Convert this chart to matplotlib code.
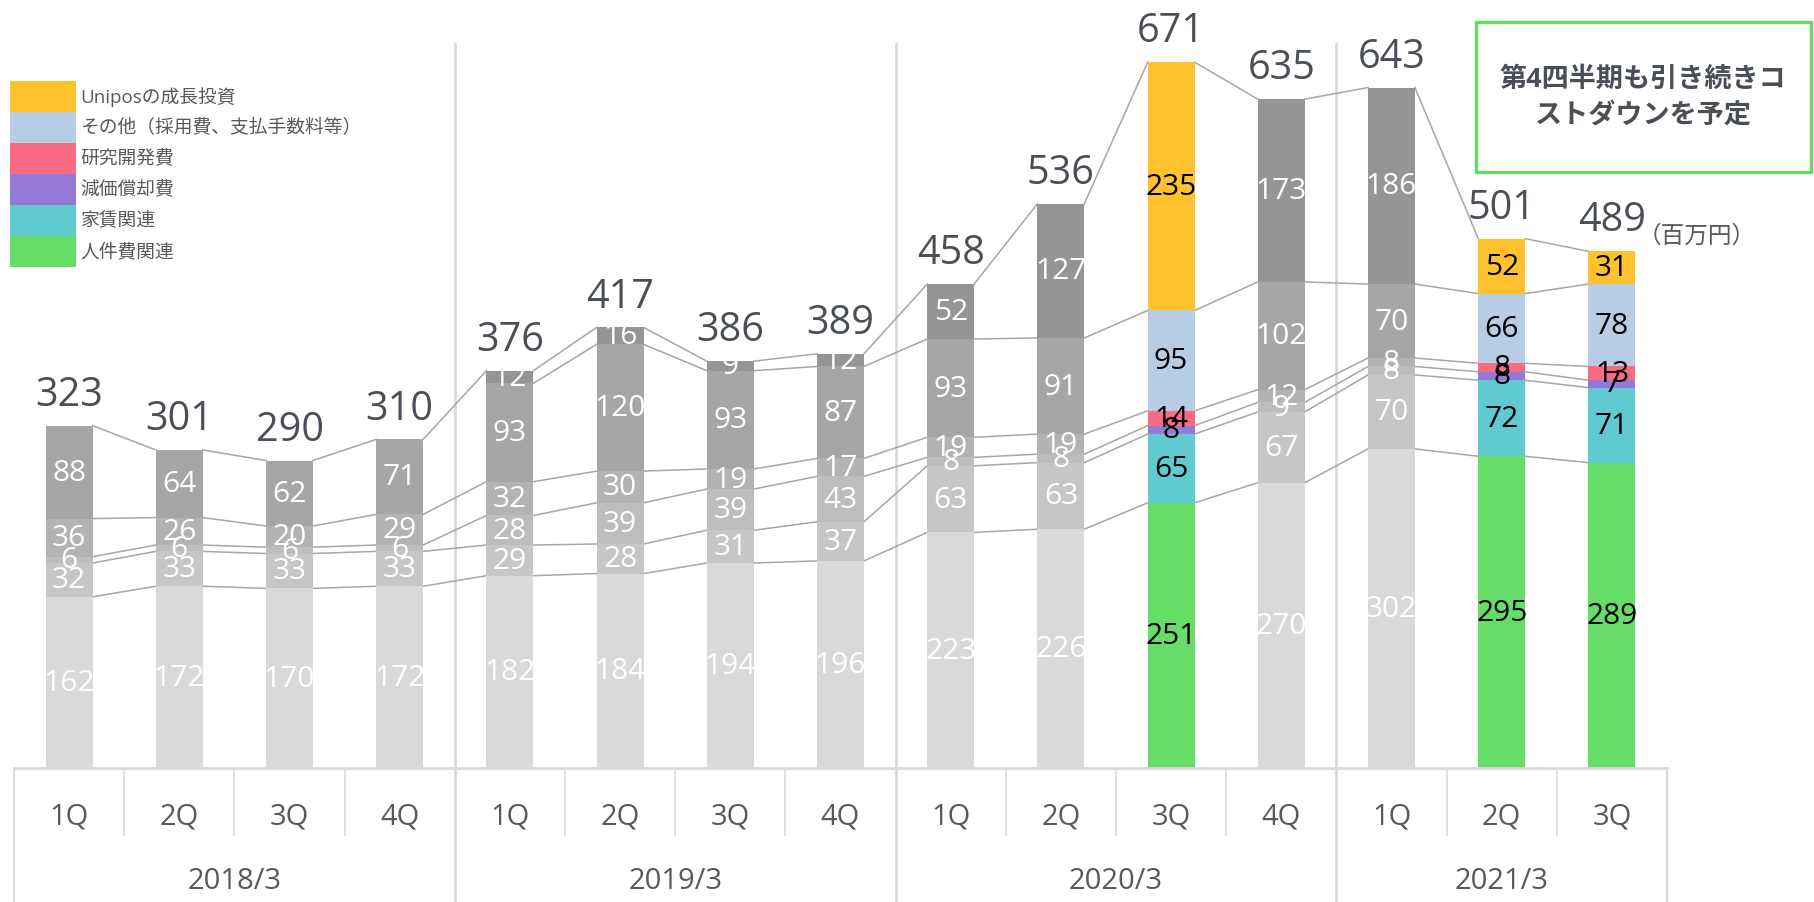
import matplotlib
matplotlib.use("Agg")
import matplotlib.pyplot as plt
from matplotlib.patches import Rectangle
import numpy as np

# ---------------- data ----------------
quarters = ['1Q', '2Q', '3Q', '4Q', '1Q', '2Q', '3Q', '4Q', '1Q', '2Q', '3Q', '4Q', '1Q', '2Q', '3Q']
years = ['2018/3', '2019/3', '2020/3', '2021/3']
year_sizes = [4, 4, 4, 3]
totals = [323, 301, 290, 310, 376, 417, 386, 389, 458, 536, 671, 635, 643, 501, 489]
personnel = [162, 172, 170, 172, 182, 184, 194, 196, 223, 226, 251, 270, 302, 295, 289]
rent = [32, 33, 33, 33, 29, 28, 31, 37, 63, 63, 65, 67, 70, 72, 71]
depreciation = [6, 6, 6, 6, 28, 39, 39, 43, 8, 8, 8, 9, 8, 8, 7]
rnd = [36, 26, 20, 29, 32, 30, 19, 17, 19, 19, 14, 12, 8, 8, 13]
other = [88, 64, 62, 71, 93, 120, 93, 87, 93, 91, 95, 102, 70, 66, 78]
unipos = [0, 0, 0, 0, 12, 16, 9, 12, 52, 127, 235, 173, 186, 52, 31]
series_names = ['人件費関連', '家賃関連', '減価償却費', '研究開発費',
                'その他（採用費、支払手数料等）', 'Uniposの成長投資']
highlight = [10, 13, 14]

# ---------------- style ----------------
FONT = ['Open Sans', 'Noto Sans CJK JP', 'DejaVu Sans']
plt.rcParams['font.family'] = FONT
colors = ['#66dd66', '#5fcbd0', '#9579d9', '#f86b82', '#b7cce5', '#ffc12c']
greys = ['#d9d9d9', '#c6c6c6', '#bdbdbd', '#b3b3b3', '#a6a6a6', '#959595']
LINE = '#a6a6a6'
AXC = '#d9d9d9'
TXT = '#4a4f57'

W, H = 1815, 903
fig = plt.figure(figsize=(W / 100, H / 100), dpi=100)

base_px = 769
px_per_unit = 709 / 671.0
left_px, right_px = 14, 1667
ax = fig.add_axes([left_px / W, (H - base_px) / H, (right_px - left_px) / W, base_px / H])
ymax = base_px / px_per_unit
ax.set_xlim(-0.5, 14.5)
ax.set_ylim(0, ymax)
ax.axis('off')

def py(p):
    """pixel offset below baseline -> data units"""
    return (base_px - p) / px_per_unit

data = np.array([personnel, rent, depreciation, rnd, other, unipos], dtype=float)
n = data.shape[1]
x = np.arange(n)
bw = 0.425
cum = np.cumsum(data, axis=0)
bottoms = cum - data

for s in range(data.shape[0]):
    cols = [colors[s] if i in highlight else greys[s] for i in range(n)]
    ax.bar(x, data[s], bottom=bottoms[s], width=bw, color=cols, linewidth=0, zorder=3)
    for i in range(n):
        v = data[s, i]
        if v <= 0:
            continue
        tc = 'black' if i in highlight else 'white'
        ax.text(x[i], bottoms[s, i] + v / 2, f"{int(v)}", ha='center', va='center',
                fontsize=21.5, color=tc, zorder=5)

# connecting lines
def top_index(i):
    idx = [s for s in range(data.shape[0]) if data[s, i] > 0]
    return idx[-1]

for i in range(n - 1):
    x0, x1 = x[i] + bw / 2, x[i + 1] - bw / 2
    for s in range(data.shape[0]):
        if data[s, i] > 0 and data[s, i + 1] > 0 and s < top_index(i) and s < top_index(i + 1):
            ax.plot([x0, x1], [cum[s, i], cum[s, i + 1]], color=LINE, lw=1.1, zorder=2)
    ax.plot([x0, x1], [cum[top_index(i), i], cum[top_index(i + 1), i + 1]],
            color=LINE, lw=1.1, zorder=2)

# totals
for i in range(n):
    ax.annotate(f"{totals[i]}", (x[i], cum[top_index(i), i]), xytext=(0, 15), textcoords='offset points',
                ha='center', va='baseline', fontsize=28.5, color=TXT, zorder=6)

# ---------------- category axis ----------------
ax.plot([-0.5, 14.5], [0, 0], color=AXC, lw=2, clip_on=False, zorder=4)
y_row1 = py(836)
y_row2 = py(903)
y_top_sep = py(45)
starts = np.cumsum([0] + year_sizes)
year_bounds = set(starts[1:-1] - 0.5)
for b in np.arange(0.5, 14.0, 1.0):
    if b in year_bounds:
        ax.plot([b, b], [y_row2, y_top_sep], color=AXC, lw=2, clip_on=False, zorder=1)
    else:
        ax.plot([b, b], [0, y_row1], color=AXC, lw=1.2, clip_on=False, zorder=1)
for b in (-0.5, 14.5):
    ax.plot([b, b], [0, y_row2], color=AXC, lw=1.5, clip_on=False, zorder=1)

for i, q in enumerate(quarters):
    ax.text(x[i], py(817), q, ha='center', va='center', fontsize=21, color='#595959', clip_on=False)
for k, yr in enumerate(years):
    c = (starts[k] + starts[k + 1] - 1) / 2
    ax.text(c, py(882), yr, ha='center', va='center', fontsize=21, color='#595959', clip_on=False)

# ---------------- legend ----------------
row_h = 31
leg_top = 82
for r, s in enumerate(range(data.shape[0] - 1, -1, -1)):
    y0 = leg_top + r * row_h
    fig.patches.append(Rectangle((10 / W, 1 - (y0 + row_h) / H), 66 / W, row_h / H,
                                 transform=fig.transFigure, facecolor=colors[s], edgecolor='none'))
    fig.text(80 / W, 1 - (y0 + row_h / 2) / H, series_names[s], ha='left', va='center',
             fontsize=13.5, color='#595959')

# ---------------- annotation box ----------------
fig.patches.append(Rectangle((1476 / W, 1 - 173 / H), (1811 - 1476) / W, (173 - 23) / H,
                             transform=fig.transFigure, facecolor='white', edgecolor='#66d866', lw=2.4))
fig.text(1643 / W, 1 - 80 / H, '第4四半期も引き続きコ', ha='center', va='center',
         fontsize=19.5, fontweight='bold', color=TXT)
fig.text(1643 / W, 1 - 116 / H, 'ストダウンを予定', ha='center', va='center',
         fontsize=19.5, fontweight='bold', color=TXT)
fig.text(1638 / W, 1 - 237 / H, '（百万円）', ha='left', va='center', fontsize=17, color='#595959')

fig.savefig('out.png', dpi=100, facecolor='white')
